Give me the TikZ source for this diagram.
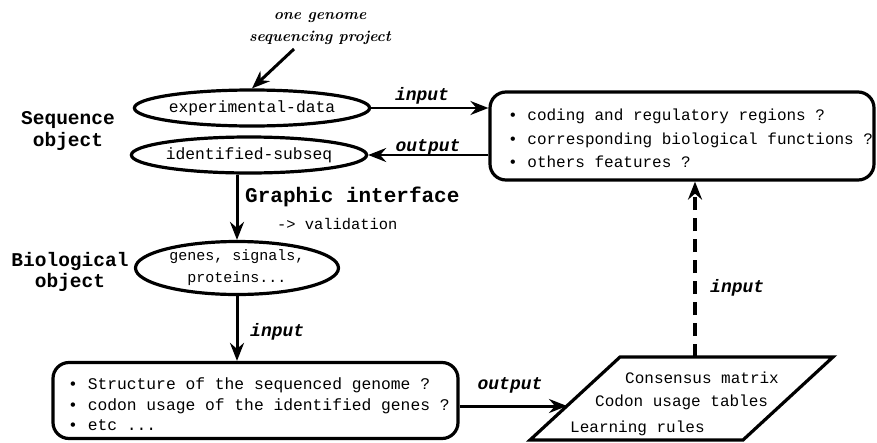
\documentclass[tikz,border=0pt]{standalone}
\usepackage{fontspec}
\setmonofont{Liberation Mono}
\usetikzlibrary{shapes.geometric,arrows.meta}
\begin{document}
\begin{tikzpicture}[x=1pt,y=-1pt,
  ell/.style={ellipse,draw,line width=3.2pt,inner sep=0pt,font=\fontsize{16.3}{19}\selectfont\ttfamily},
  qbox/.style={rectangle,rounded corners=16pt,draw,line width=3.2pt,inner sep=0pt},
  arr/.style={line width=3pt,-{Stealth[length=18pt,width=14pt,inset=6pt]}},
  lbl/.style={font=\fontsize{18}{20}\selectfont\ttfamily\bfseries\itshape,inner sep=0pt},
  side/.style={font=\fontsize{19.5}{21.5}\selectfont\ttfamily\bfseries,align=center,inner sep=0pt},
  boxtext/.style={font=\fontsize{16}{23.5}\selectfont\ttfamily,align=left,anchor=west,inner sep=0pt},
  ptext/.style={font=\fontsize{16}{19}\selectfont\ttfamily,anchor=west,inner sep=0pt}
]
\useasboundingbox (0,0) rectangle (877,442);

% project text
\node[font=\fontsize{15.5}{22}\selectfont\bfseries\itshape,align=center,inner sep=0pt] (proj) at (320,29) {one genome\\sequencing project};
\coordinate (projend) at (294,49);

% side labels
\node[side] (seqobj) at (68,131) {Sequence\\object};
\node[side] (bioobj) at (70,272) {Biological\\object};

% ellipses
\node[ell,minimum width=215,minimum height=36] (exp) at (252,108) {experimental-data};
\node[ell,minimum width=218,minimum height=36] (ids) at (249,155) {identified-subseq};
\node[ell,minimum width=203,minimum height=53,font=\fontsize{15}{22}\selectfont\ttfamily,align=center] (genes) at (237,268) {genes, signals,\\proteins...};

% top right box
\node[qbox,minimum width=384,minimum height=88] (rb) at (682,136) {};
\node[boxtext] (rbtext) at (508,138.5) {\textbullet{} coding and regulatory regions ?\\\textbullet{} corresponding biological functions ?\\\textbullet{} others features ?};

% bottom left box
\node[qbox,minimum width=405,minimum height=76] (lb) at (255.5,400.5) {};
\node[boxtext,font=\fontsize{16.3}{20.5}\selectfont\ttfamily] (lbtext) at (68,404.5) {\textbullet{} Structure of the sequenced genome ?\\\textbullet{} codon usage of the identified genes ?\\\textbullet{} etc ...};

% parallelogram
\coordinate (pA) at (620,357);
\coordinate (pB) at (833,357);
\coordinate (pC) at (743,440);
\coordinate (pD) at (530,440);
\draw[line width=3.2pt,line join=miter] (pA) -- (pB) -- (pC) -- (pD) -- cycle;
\node[ptext] (pt1) at (625,378) {Consensus matrix};
\node[ptext] (pt2) at (595,402) {Codon usage tables};
\node[ptext] (pt3) at (570,428) {Learning rules};
\coordinate (pleft) at (567,406);
\coordinate (ptop) at (695,357);

% connectors
\draw[arr] (projend) -- (exp.north);
\draw[arr,line width=2.4pt] (exp.east) -- (exp.east -| rb.west);
\draw[arr,line width=2.4pt] (ids.east -| rb.west) -- (ids.east);
\draw[arr] (genes.north |- ids.south) -- (genes.north);
\draw[arr] (genes.south) -- (genes.south |- lb.north);
\draw[arr] (lb.east |- pleft) -- (pleft);
\draw[arr,line width=3.4pt,dash pattern=on 13pt off 8pt] (ptop) -- (ptop |- rb.south);

% labels
\node[lbl] (lin1) at (422,96) {input};
\node[lbl] (lout1) at (428,147) {output};
\node[font=\fontsize{21}{23}\selectfont\ttfamily\bfseries,anchor=west,inner sep=0pt] (gi) at (245,197) {Graphic interface};
\node[font=\fontsize{15.4}{18}\selectfont\ttfamily,anchor=west,inner sep=0pt] (val) at (277,224) {-> validation};
\node[lbl,anchor=west] (lin2) at (250,332) {input};
\node[lbl] (lout2) at (510,385) {output};
\node[lbl,anchor=west] (lin3) at (710,288) {input};
\end{tikzpicture}
\end{document}
